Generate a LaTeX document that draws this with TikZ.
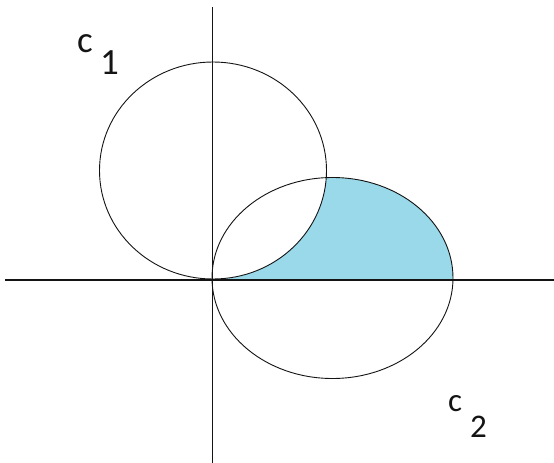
\documentclass[tikz,border=0pt]{standalone}
\usepackage{fontspec}
\setmainfont{Carlito}
\definecolor{paintblue}{RGB}{153,217,234}
\definecolor{linegray}{RGB}{20,20,20}
\begin{document}
\begin{tikzpicture}[x=1pt,y=-1pt,
  curve/.style={draw=linegray,line width=0.9pt},
  axis/.style={draw=linegray,line width=1.2pt},
  lbl/.style={inner sep=0pt,text=linegray,font=\fontsize{37}{40}\selectfont},
  lblb/.style={inner sep=0pt,text=linegray,font=\fontsize{33}{36}\selectfont}]
\useasboundingbox[fill=white] (0,0) rectangle (554,463);
% shaded region: inside C2, above x-axis, outside C1
\begin{scope}
  \clip (0,0) rectangle (554,280);
  \clip (332.5,278) ellipse [x radius=120.5, y radius=100.5];
  \fill[paintblue] (0,0) rectangle (554,463);
  \fill[white] (213,170.5) ellipse [x radius=113.5, y radius=108.5];
\end{scope}
% circles
\draw[curve] (213,170.5) ellipse [x radius=113.5, y radius=108.5];
\draw[curve] (332.5,278) ellipse [x radius=120.5, y radius=100.5];
% axes
\coordinate (xl) at (5,280);
\coordinate (xr) at (554,280);
\coordinate (yt) at (212.5,7);
\coordinate (yb) at (212.5,463);
\draw[axis] (xl) -- (xr);
\draw[axis] (yt) -- (yb);
% labels
\node[lbl] (c1c) at (85,43.5) {c};
\node[lbl] (c1n) at (109.5,63) {1};
\node[lblb] (c2c) at (455,404) {c};
\node[lblb] (c2n) at (478.5,426.5) {2};
\end{tikzpicture}
\end{document}
